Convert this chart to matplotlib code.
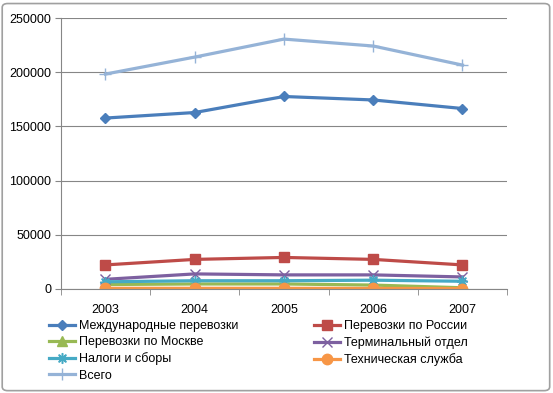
import matplotlib.pyplot as plt
from matplotlib.patches import FancyBboxPatch
from matplotlib.ticker import FixedLocator

plt.rcParams['font.family'] = ['Liberation Sans', 'DejaVu Sans']
plt.rcParams['font.size'] = 9

years = ['2003', '2004', '2005', '2006', '2007']
intl = [157700, 162800, 177600, 174400, 166500]
russia = [22100, 27200, 29000, 27200, 22100]
moscow = [4000, 4500, 4500, 3500, 1000]
terminal = [8800, 13800, 12900, 12900, 11000]
taxes = [6500, 7500, 7500, 8000, 7000]
tech = [500, 500, 500, 400, 300]
total = [198300, 214000, 230600, 224200, 206600]

series = [
    ('Международные перевозки', intl, '#4A7EBB', 'D', 5.5),
    ('Перевозки по России', russia, '#BE4B48', 's', 7),
    ('Перевозки по Москве', moscow, '#98B954', '^', 7),
    ('Терминальный отдел', terminal, '#7D60A0', 'x', 7),
    ('Налоги и сборы', taxes, '#46AAC5', '$\u2733$', 7),
    ('Техническая служба', tech, '#F79646', 'o', 7.5),
    ('Всего', total, '#95B3D7', '+', 8),
]

fig = plt.figure(figsize=(5.53, 3.93), dpi=100)
ax = fig.add_axes([0.110, 0.265, 0.807, 0.689])

x = list(range(len(years)))
lines = {}
for name, vals, col, mk, ms in series:
    ln, = ax.plot(x, vals, color=col, lw=2.3, marker=mk, markersize=ms,
                  markeredgecolor=col, markerfacecolor=col, markeredgewidth=1.0,
                  label=name)
    lines[name] = ln

ax.set_xlim(-0.5, 4.5)
ax.set_ylim(0, 250000)
ax.set_yticks(range(0, 250001, 50000))
ax.set_xticks(x)
ax.set_xticklabels(years)
ax.xaxis.set_minor_locator(FixedLocator([-0.5, 0.5, 1.5, 2.5, 3.5, 4.5]))
ax.tick_params(axis='x', which='major', length=0, pad=11)
ax.tick_params(axis='x', which='minor', length=4, color='#868686')
ax.tick_params(axis='y', length=4, color='#868686', pad=3)
ax.grid(axis='y', color='#868686', lw=0.8)
ax.set_axisbelow(True)
for s in ['top', 'right']:
    ax.spines[s].set_visible(False)
for s in ['left', 'bottom']:
    ax.spines[s].set_color('#868686')

order = ['Международные перевозки', 'Перевозки по Москве', 'Налоги и сборы', 'Всего',
         'Перевозки по России', 'Терминальный отдел', 'Техническая служба']
fig.legend([lines[n] for n in order], order, ncol=2, loc='upper left',
           bbox_to_anchor=(0.088, 0.185), frameon=False, handlelength=2.1,
           handletextpad=0.35, columnspacing=6.0, labelspacing=0.33,
           borderaxespad=0, borderpad=0)

fig.patches.append(FancyBboxPatch((0.004, 0.006), 0.99, 0.985, boxstyle='round,pad=0,rounding_size=0.01',
                                  transform=fig.transFigure, fill=False, ec='#A0A0A0', lw=1.2))

fig.savefig('out.png', dpi=100)
